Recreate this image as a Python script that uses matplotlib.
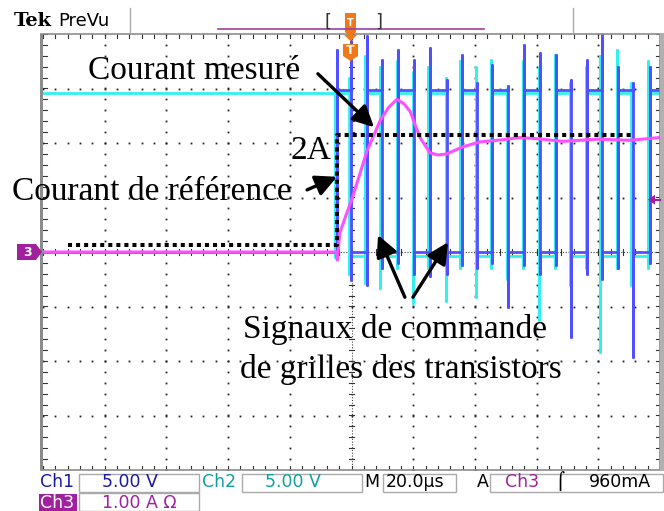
import numpy as np
import matplotlib.pyplot as plt
from matplotlib.patches import Rectangle, Polygon

# scope settings
T_DIV = 20.0      # us / div
CH1_VDIV = 5.0    # V / div
CH2_VDIV = 5.0    # V / div
CH3_ADIV = 1.0    # A / div

# switching instants of the gate drive (us)
edge_t = [-4.7, -0.2, 5.0, 9.9, 15.1, 20.3, 25.4, 31.0, 35.8, 40.7, 45.6,
          50.8, 56.0, 61.2, 66.4, 71.2, 76.4, 81.2, 86.4, 91.2, 96.7]

# Ch1 gate signal (V): levels and ringing extremes at each edge
ch1_hi, ch1_lo = 14.9, 0.0
ch1_top = [18.5, 19.4, 19.8, 17.6, 18.5, 17.6, 18.7, 15.8, 18.1, 15.5, 17.2,
           15.2, 19.0, 18.3, 18.1, 15.8, 17.6, 19.9, 17.0, 15.5, 17.0]
ch1_bot = [-0.3, -2.6, -3.0, -1.5, -1.0, -2.0, -2.2, -2.0, -1.2, -1.5, -1.0,
           -5.0, -1.2, -2.0, -1.2, -7.8, -2.0, -2.5, -1.5, -9.6, -1.0]

# Ch2 gate signal (V)
ch2_hi, ch2_lo = 14.6, -0.4
ch2_top = [15.0, 16.0, 18.0, 17.0, 17.5, 16.5, 17.0, 16.0, 17.5, 17.0, 17.6,
           15.0, 17.5, 17.0, 18.1, 15.5, 17.0, 18.0, 18.5, 15.5, 17.5]
ch2_bot = [-0.5, -2.0, -2.8, -3.3, -1.5, -4.7, -1.5, -4.5, -1.5, -4.1, -1.5,
           -2.5, -1.5, -6.2, -1.5, -3.0, -1.5, -9.2, -1.5, -3.0, -1.5]
ch2_lead = -0.5

# Ch3 measured current (A)
cur_t = [-100, -4.9, -4.6, -3.8, -1.5, 0.2, 5.0, 9.2, 12.0, 14.7, 17.0, 19.0,
         22.2, 25.4, 28.0, 30.9, 36.1, 41.6, 49.0, 54.5, 60.0, 68.5, 79.5,
         90.2, 100]
cur_a = [0.0, 0.0, -0.15, 0.35, 0.72, 0.98, 1.85, 2.40, 2.65, 2.80, 2.72,
         2.58, 2.10, 1.82, 1.78, 1.80, 1.93, 2.02, 2.06, 2.10, 2.08, 2.03,
         2.07, 2.05, 2.10]

# reference current step (A)
ref_t = [-92.0, -4.7, -4.7, 90.9]
ref_a = [0.13, 0.13, 2.15, 2.15]

trig_level = 0.96  # A


def gate_trace(pre, hi, lo, tops, bots, vdiv, shift=0.0):
    t, v = [-100.0], [pre]
    cur = pre
    for i, te in enumerate(edge_t):
        nxt = hi if i % 2 == 0 else lo
        te = te + shift
        t += [te, te, te, te]
        v += [cur, tops[i], bots[i], nxt]
        cur = nxt
    t.append(100.0)
    v.append(cur)
    return np.array(t), np.array(v) / vdiv


W, H = 664, 511
fig = plt.figure(figsize=(W / 100, H / 100), dpi=100)
fig.patch.set_facecolor('white')

gl, gr, gt, gb = 43, 660, 34, 470
ax = fig.add_axes([gl / W, 1 - gb / H, (gr - gl) / W, (gb - gt) / H])
ax.set_xlim(-5 * T_DIV, 5 * T_DIV)
ax.set_ylim(-4, 4)
ax.axis('off')

# graticule
dot = dict(ls='none', marker='s', ms=1.3, mew=0, color='#222222', zorder=1)
ys = np.arange(-4, 4.001, 0.2)
xs = np.arange(-100, 100.01, 4)
for k in range(1, 10):
    if k != 5:
        ax.plot(np.full_like(ys, -100 + 20 * k), ys, **dot)
for k in range(-3, 4):
    if k != 0:
        ax.plot(xs, np.full_like(xs, k), **dot)
ax.plot([0, 0], [-4, 4], color='#444444', lw=0.8, ls=(0, (1, 1.5)), zorder=1)
ax.plot([-100, 100], [0, 0], color='#444444', lw=0.8, ls=(0, (1, 1.5)), zorder=1)
for y in ys:
    ax.plot([-0.9, 0.9], [y, y], color='#333333', lw=0.8, zorder=1)
    ax.plot([-100, -98.8], [y, y], color='#333333', lw=0.8, zorder=1)
    ax.plot([98.8, 100], [y, y], color='#333333', lw=0.8, zorder=1)
for x in xs:
    ax.plot([x, x], [-0.05, 0.05], color='#333333', lw=0.8, zorder=1)
    ax.plot([x, x], [3.93, 4], color='#333333', lw=0.8, zorder=1)
    ax.plot([x, x], [-4, -3.93], color='#333333', lw=0.8, zorder=1)

# traces
t2, v2 = gate_trace(ch2_hi, ch2_hi, ch2_lo, ch2_top, ch2_bot, CH2_VDIV, ch2_lead)
ax.plot(t2, v2, color='#30f0f0', lw=2.0, zorder=2)
t1, v1 = gate_trace(ch1_lo, ch1_hi, ch1_lo, ch1_top, ch1_bot, CH1_VDIV)
ax.plot(t1, v1, color='#5050ff', lw=2.0, zorder=3)
ax.plot(cur_t, np.array(cur_a) / CH3_ADIV, color='#ff50ff', lw=2.2, zorder=4)
ax.plot(ref_t, np.array(ref_a) / CH3_ADIV, color='black', lw=2.9,
        ls=(0, (1, 1)), zorder=5)

# arrows
arr = dict(arrowstyle='-|>,head_length=0.8,head_width=0.4', lw=2.4,
           color='black', mutation_scale=16, shrinkA=0, shrinkB=0)
ax.annotate('', xy=(7.3, 2.29), xytext=(-10.9, 3.27), arrowprops=arr, zorder=6)
ax.annotate('', xy=(-4.7, 1.38), xytext=(-14.4, 1.14), arrowprops=arr, zorder=6)
ax.annotate('', xy=(8.6, 0.31), xytext=(17.3, -0.83), arrowprops=arr, zorder=6)
ax.annotate('', xy=(31.3, 0.18), xytext=(19.9, -0.83), arrowprops=arr, zorder=6)

# overlay in pixel units for the scope furniture and labels
hud = fig.add_axes([0, 0, 1, 1], zorder=5)
hud.set_xlim(0, W)
hud.set_ylim(H, 0)
hud.axis('off')
hud.patch.set_visible(False)

# graticule frame
hud.add_patch(Rectangle((gl - 2, gt), gr - gl + 2, gb - gt, fill=False,
                        ec='#8c8c8c', lw=1.2))
hud.add_patch(Rectangle((gl - 3, gt), 3, gb - gt, color='#8c8c8c', lw=0))
hud.add_patch(Rectangle((gr, gt - 1), W - gr, gb - gt + 2, color='#b0b0b0', lw=0))

serif = dict(family='Liberation Serif', fontsize=24, color='black')
hud.text(88, 79, 'Courant mesuré', **serif)
hud.text(290, 159, '2A', **serif)
hud.text(12, 200, 'Courant de référence', **serif)
hud.text(243, 338, 'Signaux de commande', **serif)
hud.text(240, 378, 'de grilles des transistors', **serif)

# header
hud.text(14, 21, 'Tek', fontsize=14, fontweight='bold', va='center',
         family='DejaVu Serif')
hud.text(58, 21, 'PreVu', fontsize=13, va='center', family='DejaVu Sans')
hud.plot([130, 130], [8, 33], color='#aaaaaa', lw=1)
hud.plot([573, 573], [8, 33], color='#aaaaaa', lw=1)
hud.plot([218, 484], [29, 29], color='#a040a0', lw=1.2)
hud.text(324, 22, '[', fontsize=13, va='center', color='#333333')
hud.text(375, 22, ']', fontsize=13, va='center', color='#333333')
orange = '#f07818'
hud.add_patch(Polygon([(345, 13), (356, 13), (356, 32), (350.5, 37), (345, 32)],
                      color=orange, lw=0))
hud.text(350.5, 23, 'T', fontsize=7, color='white', ha='center', va='center',
         fontweight='bold')
hud.add_patch(Polygon([(344, 35), (357, 35), (350.5, 41)], color=orange, lw=0))
hud.add_patch(Polygon([(343, 44), (358, 44), (358, 56), (350.5, 61), (343, 56)],
                      color=orange, lw=0))
hud.text(350.5, 51, 'T', fontsize=9, color='white', ha='center', va='center',
         fontweight='bold')

# channel 3 ground marker and trigger level
purple = '#a0209f'
hud.add_patch(Polygon([(17, 244), (36, 244), (42, 252), (36, 260), (17, 260)],
                      color=purple, lw=0))
hud.text(28, 252.5, '3', fontsize=9, color='white', ha='center', va='center',
         fontweight='bold')
y_trig = 252 - trig_level / CH3_ADIV * 54.5
hud.add_patch(Polygon([(648, y_trig), (655, y_trig - 5), (655, y_trig + 5)],
                      color=purple, lw=0))
hud.plot([654, 660], [y_trig, y_trig], color=purple, lw=1.5)

# status bar
sans = dict(family='DejaVu Sans', fontsize=12.5, va='center')
box = dict(fill=False, ec='#aaaaaa', lw=1)
hud.text(40, 482, 'Ch1', color='#1a1aa0', **sans)
hud.add_patch(Rectangle((79, 474), 120, 18, **box))
hud.text(102, 482, '5.00 V', color='#1a1aa0', **sans)
hud.text(202, 482, 'Ch2', color='#10a0a0', **sans)
hud.add_patch(Rectangle((242, 474), 120, 18, **box))
hud.text(265, 482, '5.00 V', color='#10a0a0', **sans)
hud.text(364, 482, 'M', color='black', **sans)
hud.add_patch(Rectangle((383, 474), 73, 18, **box))
hud.text(386, 482, '20.0\u00b5s', color='black', **sans)
hud.text(477, 482, 'A', color='black', **sans)
hud.add_patch(Rectangle((490, 474), 173, 18, **box))
hud.text(505, 482, 'Ch3', color=purple, **sans)
hud.text(555, 482, '\u2320', color='black', **sans)
hud.text(589, 482, '960mA', color='black', **sans)
hud.add_patch(Rectangle((39, 494), 38, 17, color=purple, lw=0))
hud.text(40, 503, 'Ch3', color='white', **sans)
hud.add_patch(Rectangle((79, 493), 120, 18, **box))
hud.text(102, 503, '1.00 A \u03a9', color=purple, **sans)

fig.savefig('out.png', dpi=100)
